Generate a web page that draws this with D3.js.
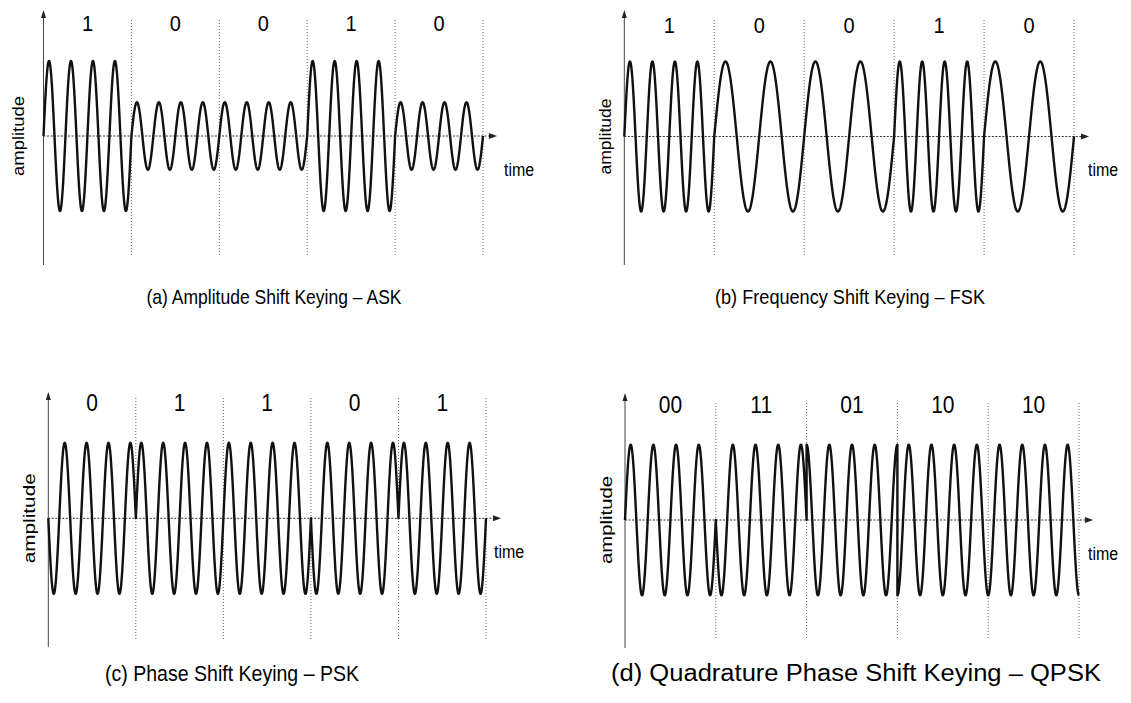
<!DOCTYPE html>
<html>
<head>
  <meta charset="utf-8">
  <title>Digital modulation schemes</title>
  <script src="https://cdn.jsdelivr.net/npm/d3@7"></script>
  <style>
    html, body { margin: 0; padding: 0; background: #fff; }
    svg { display: block; }
    text { font-family: "Liberation Sans", Arial, sans-serif; fill: #000; }
  </style>
</head>
<body>
  <svg width="1131" height="703"></svg>

  <script>
    // data
    const askBits = [1, 0, 0, 1, 0];
    const fskBits = [1, 0, 0, 1, 0];
    const pskBits = [0, 1, 1, 0, 1];
    const qpskSymbols = ["00", "11", "01", "10", "10"];

    const cyclesPerBit = 4;
    const askAmplitude = { 1: 1, 0: 0.45 };          // relative carrier amplitude
    const fskCycles = { 1: 4, 0: 2 };                 // carrier cycles per bit
    const pskPhase = { 0: 180, 1: 0 };                // degrees, on a sine carrier
    const qpskPhase = { "00": 0, "11": 180, "01": 90, "10": 270 };

    const titles = [
      "(a) Amplitude Shift Keying \u2013 ASK",
      "(b) Frequency Shift Keying \u2013 FSK",
      "(c) Phase Shift Keying \u2013 PSK",
      "(d) Quadrature Phase Shift Keying \u2013 QPSK"
    ];

    const svg = d3.select("svg");
    const stretch = 1.12;   // the scanned figure's lettering is taller than wide

    // carrier value for a symbol at local time tau (0..1 inside the symbol)
    const signals = [
      { labels: askBits, f: (b, tau) => askAmplitude[b] * Math.sin(2 * Math.PI * cyclesPerBit * tau) },
      { labels: fskBits, f: (b, tau) => Math.sin(2 * Math.PI * fskCycles[b] * tau) },
      { labels: pskBits, f: (b, tau) => Math.sin(2 * Math.PI * cyclesPerBit * tau + pskPhase[b] * Math.PI / 180) },
      { labels: qpskSymbols, f: (s, tau) => Math.sin(2 * Math.PI * cyclesPerBit * tau + qpskPhase[s] * Math.PI / 180) }
    ];

    // layout of the four panels (the four sub-figures were scaled a little differently)
    const layout = [
      { x0: 43.5, x1: 483, zero: 136, amp: 75, top: 10, bottom: 265, divTop: 20, divBottom: 257,
        arrowX: 497, labelY: 23, labelSize: 20, timeX: 504, ampX: 18, ampLen: 80,
        titleX: 274, titleY: 297, titleSize: 17.5, titleLen: 255 },
      { x0: 624.3, x1: 1074, zero: 136.5, amp: 75, top: 10, bottom: 265, divTop: 20, divBottom: 257,
        arrowX: 1089, labelY: 25, labelSize: 20, timeX: 1088, ampX: 605, ampLen: 76,
        titleX: 850, titleY: 297, titleSize: 18, titleLen: 270 },
      { x0: 48.3, x1: 486, zero: 518.3, amp: 75.5, top: 392, bottom: 647, divTop: 398, divBottom: 640,
        arrowX: 501, labelY: 403, labelSize: 21, timeX: 494, ampX: 29, ampLen: 90,
        titleX: 232, titleY: 673, titleSize: 19.5, titleLen: 254 },
      { x0: 625, x1: 1079, zero: 520, amp: 75.3, top: 393, bottom: 648, divTop: 403, divBottom: 638,
        arrowX: 1093, labelY: 405, labelSize: 21, timeX: 1088, ampX: 606, ampLen: 88,
        titleX: 856, titleY: 673, titleSize: 21, titleLen: 490 }
    ];

    layout.forEach((L, k) => {
      const sig = signals[k];
      const n = sig.labels.length;
      const g = svg.append("g");

      const x = d3.scaleLinear().domain([0, n]).range([L.x0, L.x1]);
      const y = d3.scaleLinear().domain([-1, 1]).range([L.zero + L.amp, L.zero - L.amp]);

      // bit dividers
      g.selectAll("line.div")
        .data(d3.range(1, n + 1))
        .join("line")
        .attr("class", "div")
        .attr("x1", d => x(d)).attr("x2", d => x(d))
        .attr("y1", L.divTop).attr("y2", L.divBottom)
        .attr("stroke", "#666")
        .attr("stroke-width", 1)
        .attr("stroke-dasharray", "1,2");

      // time axis (dotted) with arrow
      g.append("line")
        .attr("x1", L.x0).attr("x2", L.arrowX - 6)
        .attr("y1", y(0)).attr("y2", y(0))
        .attr("stroke", "#333")
        .attr("stroke-width", 1)
        .attr("stroke-dasharray", "2,1.5");
      g.append("path")
        .attr("d", `M${L.arrowX},${y(0)} l-8,-3 l0,6 z`)
        .attr("fill", "#222");

      // amplitude axis with arrow
      g.append("line")
        .attr("x1", L.x0).attr("x2", L.x0)
        .attr("y1", L.top + 4).attr("y2", L.bottom)
        .attr("stroke", "#444")
        .attr("stroke-width", 1);
      g.append("path")
        .attr("d", `M${L.x0},${L.top} l-2.5,8 l5,0 z`)
        .attr("fill", "#222");

      // waveform, one segment per symbol so phase jumps show as vertical steps
      const pts = [];
      sig.labels.forEach((b, i) => {
        const steps = 400;
        for (let j = 0; j <= steps; j++) {
          const tau = j / steps;
          pts.push([i + tau, sig.f(b, tau)]);
        }
      });
      const line = d3.line()
        .x(d => x(d[0]))
        .y(d => y(d[1]));
      g.append("path")
        .datum(pts)
        .attr("fill", "none")
        .attr("stroke", "#111")
        .attr("stroke-width", 2.4)
        .attr("stroke-linejoin", "round")
        .attr("d", line);

      // bit labels
      g.selectAll("text.bit")
        .data(sig.labels)
        .join("text")
        .attr("class", "bit")
        .attr("transform", (d, i) => `translate(${x(i + 0.5)},${L.labelY}) scale(1,${stretch})`)
        .attr("text-anchor", "middle")
        .attr("dominant-baseline", "central")
        .style("font-size", L.labelSize + "px")
        .text(d => d);

      // axis names
      g.append("text")
        .attr("transform", `translate(${L.ampX},${L.zero}) rotate(-90)`)
        .attr("text-anchor", "middle")
        .attr("dominant-baseline", "central")
        .attr("textLength", L.ampLen)
        .attr("lengthAdjust", "spacingAndGlyphs")
        .style("font-size", "16px")
        .text("amplitude");
      g.append("text")
        .attr("transform", `translate(${L.timeX},${L.zero + 34}) scale(1,${stretch})`)
        .attr("dominant-baseline", "central")
        .style("font-size", "16px")
        .text("time");

      // caption
      g.append("text")
        .attr("transform", `translate(${L.titleX},${L.titleY}) scale(1,${stretch})`)
        .attr("text-anchor", "middle")
        .attr("dominant-baseline", "central")
        .attr("textLength", L.titleLen)
        .attr("lengthAdjust", "spacingAndGlyphs")
        .style("font-size", L.titleSize + "px")
        .text(titles[k]);
    });
  </script>
</body>
</html>
